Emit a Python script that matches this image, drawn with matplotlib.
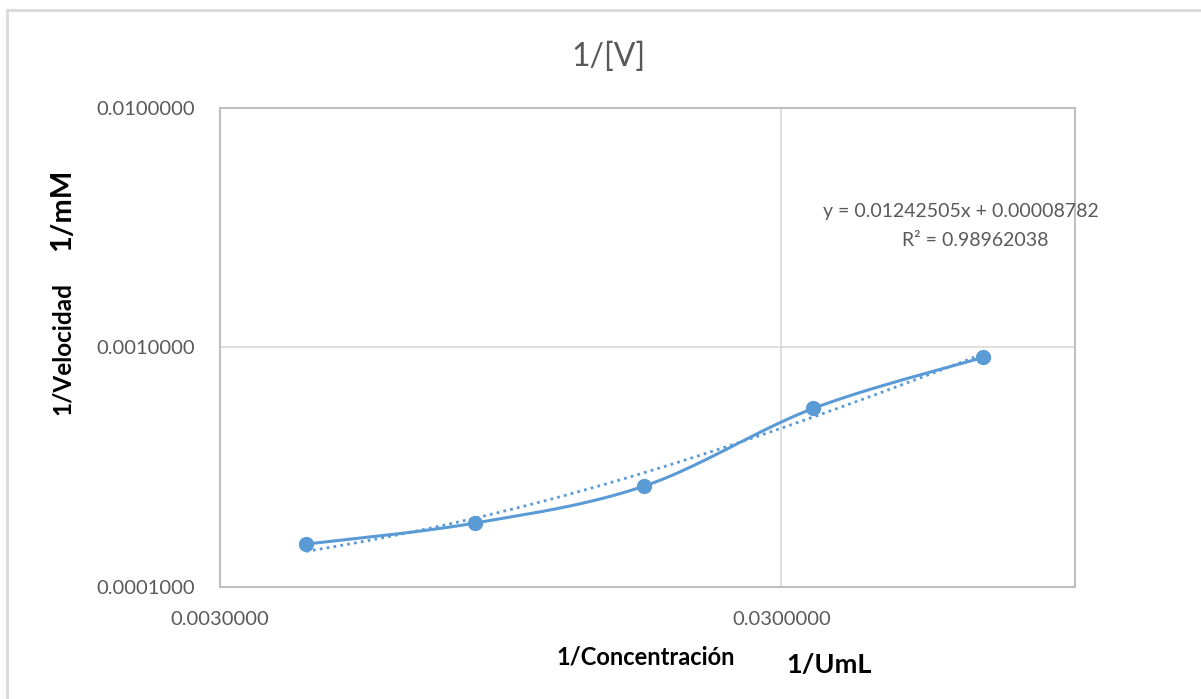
import numpy as np
import matplotlib.pyplot as plt
from matplotlib.lines import Line2D

# datos
inv_conc = [0.00427, 0.00855, 0.0171, 0.0342, 0.0686]
inv_vel = [0.000151, 0.000185, 0.000264, 0.000557, 0.000909]
slope = 0.01242505
intercept = 0.00008782
r2 = 0.98962038

blue = '#5B9BD5'
grey = '#595959'
grid = '#D9D9D9'

plt.rcParams['font.family'] = ['Lato', 'DejaVu Sans']

fig = plt.figure(figsize=(12.01, 6.99), dpi=100)
ax = fig.add_axes([220/1201, 1-587/699, 855/1201, 479/699])
ax.set_xscale('log')
ax.set_yscale('log')
ax.set_xlim(0.003, 0.1)
ax.set_ylim(0.0001, 0.01)

# curva suavizada (estilo Excel) en espacio log
lx = np.log10(inv_conc)
ly = np.log10(inv_vel)
px = np.concatenate([[lx[0]], lx, [lx[-1]]])
py = np.concatenate([[ly[0]], ly, [ly[-1]]])
sx, sy = [], []
t = np.linspace(0, 1, 40)
for i in range(1, len(px) - 2):
    p0 = np.array([px[i], py[i]])
    p3 = np.array([px[i+1], py[i+1]])
    c1 = p0 + (np.array([px[i+1], py[i+1]]) - np.array([px[i-1], py[i-1]])) / 6
    c2 = p3 - (np.array([px[i+2], py[i+2]]) - np.array([px[i], py[i]])) / 6
    b = ((1-t)**3)[:, None]*p0 + (3*(1-t)**2*t)[:, None]*c1 + (3*(1-t)*t**2)[:, None]*c2 + (t**3)[:, None]*p3
    sx.extend(b[:, 0]); sy.extend(b[:, 1])
ax.plot(10**np.array(sx), 10**np.array(sy), color=blue, lw=2.2, zorder=3)
ax.plot(inv_conc, inv_vel, 'o', color=blue, ms=10, zorder=4)

# linea de tendencia
xt = np.linspace(inv_conc[0], inv_conc[-1], 200)
ax.plot(xt, slope*xt + intercept, color=blue, lw=2, ls=(0, (1, 1.5)), zorder=2)

ax.set_xticks([0.003, 0.03])
ax.set_yticks([0.0001, 0.001, 0.01])
ax.set_xticklabels(['0.0030000', '0.0300000'])
ax.set_yticklabels(['0.0001000', '0.0010000', '0.0100000'])
ax.minorticks_off()
ax.tick_params(length=0, labelsize=14.5, labelcolor=grey)
ax.tick_params(axis='y', pad=18)
ax.tick_params(axis='x', pad=17)
ax.grid(True, color=grid, lw=1.2)
for s in ax.spines.values():
    s.set_color('#BFBFBF')
    s.set_linewidth(1.5)

fig.text(608/1201, 1-57/699, '1/[V]', ha='center', va='center', fontsize=23, color=grey)
fig.text(961/1201, 1-212/699, 'y = 0.01242505x + 0.00008782', ha='center', va='center', fontsize=14, color=grey)
fig.text(975/1201, 1-241/699, 'R² = %.8f' % r2, ha='center', va='center', fontsize=14, color=grey)
fig.text(646/1201, 1-657/699, '1/Concentración', ha='center', va='center', fontsize=17, fontweight='bold', color='black')
fig.text(829/1201, 1-665/699, '1/UmL', ha='center', va='center', fontsize=19.5, fontweight='bold', color='black')
fig.text(62/1201, 1-348/699, '1/Velocidad', ha='center', va='center', rotation=90, fontsize=17.5, fontweight='bold', color='black')
fig.text(62/1201, 1-210/699, '1/mM', ha='center', va='center', rotation=90, fontsize=21, fontweight='bold', color='black')

# borde del area del grafico
fig.add_artist(Line2D([7/1201, 1], [1-10/699, 1-10/699], color='#D9D9D9', lw=2))
fig.add_artist(Line2D([7/1201, 7/1201], [0, 1-10/699], color='#D9D9D9', lw=2))

fig.savefig('out.png', dpi=100)
